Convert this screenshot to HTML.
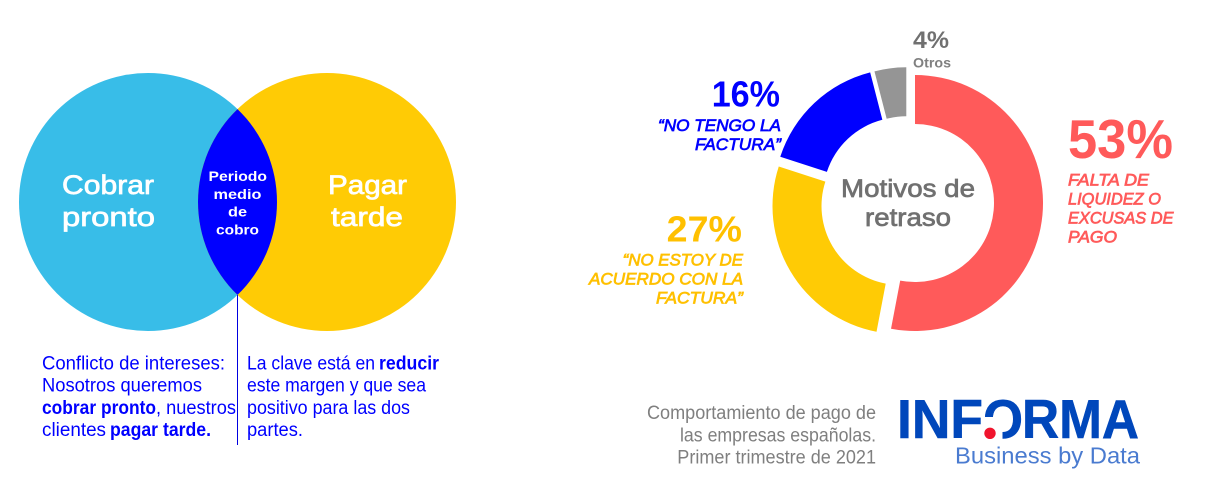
<!DOCTYPE html>
<html lang="es">
<head>
<meta charset="utf-8">
<title>Motivos de retraso</title>
<style>
html,body{margin:0;padding:0;background:#fff;}
svg{display:block;}
text{font-family:"Liberation Sans",sans-serif;}
.semi{stroke-width:.7;paint-order:stroke;}
.venn-big{font-size:26.5px;fill:#fff;stroke:#fff;}
.venn-small{font-size:14px;fill:#fff;font-weight:bold;}
.body{font-size:19px;fill:#0000ff;}
.body-b{font-size:19px;fill:#0000ff;font-weight:bold;}
.pct{font-weight:bold;}
.lab{font-size:16.5px;font-style:italic;}
.note{font-size:19px;fill:#7f7f7f;}
</style>
</head>
<body>
<svg id="chart" xmlns="http://www.w3.org/2000/svg" width="1208" height="495" viewBox="0 0 1208 495">
  <rect x="0" y="0" width="1208" height="495" fill="#fff"/>

  <g>
    <circle cx="148" cy="202" r="129" fill="#38bde8"/>
    <circle cx="327" cy="202" r="129" fill="#ffcb05"/>
    <path d="M237.5 109.1A129 129 0 0 1 237.5 294.9A129 129 0 0 1 237.5 109.1Z" fill="#0000ff"/>
    <line x1="237.5" y1="295" x2="237.5" y2="445" stroke="#0000e0" stroke-width="1"/>
    <text class="venn-big semi" x="62" y="194" textLength="92" lengthAdjust="spacingAndGlyphs">Cobrar</text>
    <text class="venn-big semi" x="62" y="226" textLength="93" lengthAdjust="spacingAndGlyphs">pronto</text>
    <text class="venn-big semi" x="328" y="194" textLength="79" lengthAdjust="spacingAndGlyphs">Pagar</text>
    <text class="venn-big semi" x="331" y="226" textLength="72" lengthAdjust="spacingAndGlyphs">tarde</text>
    <text class="venn-small" x="208.5" y="181" textLength="58.5" lengthAdjust="spacingAndGlyphs">Periodo</text>
    <text class="venn-small" x="213.5" y="199" textLength="48" lengthAdjust="spacingAndGlyphs">medio</text>
    <text class="venn-small" x="228" y="216.5" textLength="19" lengthAdjust="spacingAndGlyphs">de</text>
    <text class="venn-small" x="216" y="234.5" textLength="43" lengthAdjust="spacingAndGlyphs">cobro</text>
  </g>

  <g>
    <text class="body" x="42" y="369.5" textLength="183" lengthAdjust="spacingAndGlyphs">Conflicto de intereses:</text>
    <text class="body" x="42" y="391.5" textLength="160" lengthAdjust="spacingAndGlyphs">Nosotros queremos</text>
    <text class="body-b" x="42" y="414" textLength="114" lengthAdjust="spacingAndGlyphs">cobrar pronto</text>
    <text class="body" x="156" y="414" textLength="80" lengthAdjust="spacingAndGlyphs">, nuestros</text>
    <text class="body" x="42" y="436" textLength="64" lengthAdjust="spacingAndGlyphs">clientes</text>
    <text class="body-b" x="110" y="436" textLength="101" lengthAdjust="spacingAndGlyphs">pagar tarde.</text>
  </g>

  <g>
    <text class="body" x="247" y="369.5" textLength="128" lengthAdjust="spacingAndGlyphs">La clave está en</text>
    <text class="body-b" x="379" y="369.5" textLength="60" lengthAdjust="spacingAndGlyphs">reducir</text>
    <text class="body" x="247" y="391.5" textLength="179" lengthAdjust="spacingAndGlyphs">este margen y que sea</text>
    <text class="body" x="247" y="414" textLength="163" lengthAdjust="spacingAndGlyphs">positivo para las dos</text>
    <text class="body" x="247" y="436" textLength="56" lengthAdjust="spacingAndGlyphs">partes.</text>
  </g>

  <g id="donut"></g>

  <g>
    <text class="semi" x="841" y="197" font-size="25" fill="#707070" stroke="#707070" textLength="134" lengthAdjust="spacingAndGlyphs">Motivos de</text>
    <text class="semi" x="865" y="226" font-size="25" fill="#707070" stroke="#707070" textLength="86" lengthAdjust="spacingAndGlyphs">retraso</text>

    <text class="pct" x="913" y="48" font-size="24" fill="#707070" textLength="36" lengthAdjust="spacingAndGlyphs">4%</text>
    <text x="913" y="67.3" font-size="13.5" font-weight="bold" fill="#808080" textLength="38" lengthAdjust="spacingAndGlyphs">Otros</text>

    <text class="pct" x="711.7" y="106.7" font-size="36" fill="#0000ff" textLength="68.3" lengthAdjust="spacingAndGlyphs">16%</text>
    <text class="lab semi" x="658" y="131" fill="#0000ff" stroke="#0000ff" textLength="123" lengthAdjust="spacingAndGlyphs">“NO TENGO LA</text>
    <text class="lab semi" x="695" y="150" fill="#0000ff" stroke="#0000ff" textLength="86" lengthAdjust="spacingAndGlyphs">FACTURA”</text>

    <text class="pct" x="666.7" y="241.7" font-size="36" fill="#ffc000" textLength="75.3" lengthAdjust="spacingAndGlyphs">27%</text>
    <text class="lab semi" x="622.7" y="265.5" fill="#ffc000" stroke="#ffc000" textLength="120.3" lengthAdjust="spacingAndGlyphs">“NO ESTOY DE</text>
    <text class="lab semi" x="589" y="284.5" fill="#ffc000" stroke="#ffc000" textLength="154" lengthAdjust="spacingAndGlyphs">ACUERDO CON LA</text>
    <text class="lab semi" x="656" y="303.5" fill="#ffc000" stroke="#ffc000" textLength="87" lengthAdjust="spacingAndGlyphs">FACTURA”</text>

    <text class="pct" x="1068" y="158" font-size="55" fill="#ff5a5a" textLength="105" lengthAdjust="spacingAndGlyphs">53%</text>
    <text class="lab semi" x="1068" y="185.5" fill="#ff5a5a" stroke="#ff5a5a" textLength="81" lengthAdjust="spacingAndGlyphs">FALTA DE</text>
    <text class="lab semi" x="1068" y="204.5" fill="#ff5a5a" stroke="#ff5a5a" textLength="93" lengthAdjust="spacingAndGlyphs">LIQUIDEZ O</text>
    <text class="lab semi" x="1068" y="223.5" fill="#ff5a5a" stroke="#ff5a5a" textLength="105.5" lengthAdjust="spacingAndGlyphs">EXCUSAS DE</text>
    <text class="lab semi" x="1068" y="242.5" fill="#ff5a5a" stroke="#ff5a5a" textLength="49" lengthAdjust="spacingAndGlyphs">PAGO</text>
  </g>

  <g>
    <text class="note" x="647" y="418.8" textLength="229" lengthAdjust="spacingAndGlyphs">Comportamiento de pago de</text>
    <text class="note" x="680" y="441.5" textLength="196" lengthAdjust="spacingAndGlyphs">las empresas españolas.</text>
    <text class="note" x="677.3" y="463.4" textLength="198.7" lengthAdjust="spacingAndGlyphs">Primer trimestre de 2021</text>
  </g>

  <g>
    <text x="897" y="438" font-size="55" font-weight="bold" fill="#0047bb" stroke="#0047bb" stroke-width=".6" textLength="86" lengthAdjust="spacingAndGlyphs">INF</text>
    <text x="983" y="438" font-size="55" font-weight="bold" fill="#0047bb" stroke="#0047bb" stroke-width=".6" textLength="40" lengthAdjust="spacingAndGlyphs">O</text>
    <text x="1022" y="438" font-size="55" font-weight="bold" fill="#0047bb" stroke="#0047bb" stroke-width=".6" textLength="117" lengthAdjust="spacingAndGlyphs">RMA</text>
    <rect x="983.5" y="417" width="19" height="24" fill="#fff"/>
    <circle cx="990" cy="433.3" r="5.7" fill="#f0142d"/>
    <text x="955" y="463.4" font-size="23" fill="#4a7bd0" textLength="185" lengthAdjust="spacingAndGlyphs">Business by Data</text>
  </g>
</svg>

<script>
const categories = ['liquidez', 'desacuerdo', 'no-factura', 'otros'];
const seriesValues = [53, 27, 16, 4];
const sliceColors = ['#ff5a5a', '#ffcb05', '#0000ff', '#959595'];

(function () {
  const NS = 'http://www.w3.org/2000/svg';
  const group = document.getElementById('donut');
  const cx = 908, cy = 199.5, rOuter = 128, rInner = 79;
  const shiftX = [7, -7.5, -6, -1.7];
  const shiftY = [3.5, 6.5, -3.2, -4.2];
  const total = seriesValues.reduce(function (a, b) { return a + b; }, 0);
  const angle = function (v) { return v / total * Math.PI * 2; };
  const px = function (c, r, a) { return c + r * Math.sin(a); };
  const py = function (c, r, a) { return c - r * Math.cos(a); };
  let running = 0;
  seriesValues.forEach(function (value, i) {
    const a0 = angle(running);
    const a1 = angle(running + value);
    running += value;
    const x = cx + shiftX[i];
    const y = cy + shiftY[i];
    const large = a1 - a0 > Math.PI ? 1 : 0;
    const d = 'M' + px(x, rOuter, a0).toFixed(2) + ' ' + py(y, rOuter, a0).toFixed(2) +
      'A' + rOuter + ' ' + rOuter + ' 0 ' + large + ' 1 ' + px(x, rOuter, a1).toFixed(2) + ' ' + py(y, rOuter, a1).toFixed(2) +
      'L' + px(x, rInner, a1).toFixed(2) + ' ' + py(y, rInner, a1).toFixed(2) +
      'A' + rInner + ' ' + rInner + ' 0 ' + large + ' 0 ' + px(x, rInner, a0).toFixed(2) + ' ' + py(y, rInner, a0).toFixed(2) + 'Z';
    const el = document.createElementNS(NS, 'path');
    el.setAttribute('d', d);
    el.setAttribute('fill', sliceColors[i]);
    
    
    group.appendChild(el);
  });
})();
</script>
</body>
</html>
